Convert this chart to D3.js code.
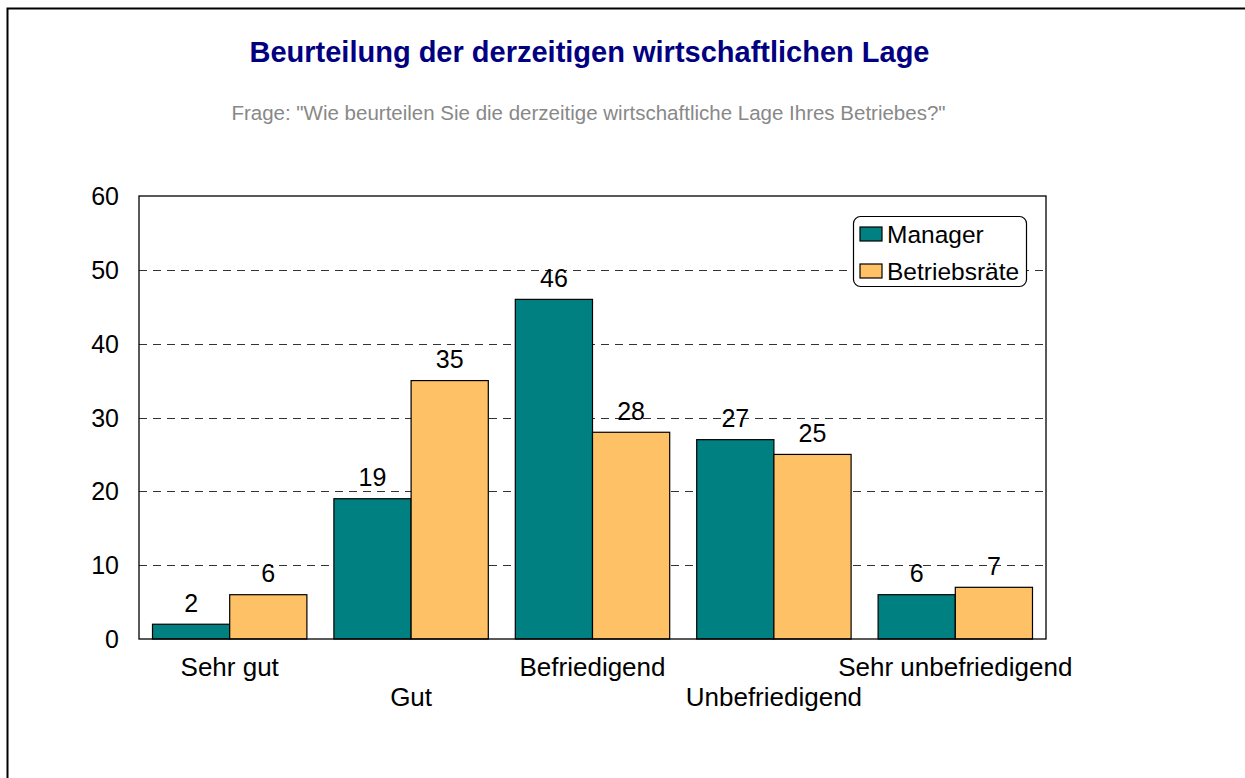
<!DOCTYPE html>
<html>
<head>
<meta charset="utf-8">
<script src="https://cdn.jsdelivr.net/npm/d3@7"></script>
<style>
  body { margin: 0; background: #fff; }
  svg { display: block; font-family: Arial, "Liberation Sans", sans-serif; }
</style>
</head>
<body>
<div id="chart"></div>
<script>
// data
var categories = ["Sehr gut", "Gut", "Befriedigend", "Unbefriedigend", "Sehr unbefriedigend"];
var seriesNames = ["Manager", "Betriebsräte"];
var managerValues = [2, 19, 46, 27, 6];
var betriebsratValues = [6, 35, 28, 25, 7];
var yTicks = [0, 10, 20, 30, 40, 50, 60];

var colors = ["#008080", "#FFC166"];

var width = 1245,
    height = 778;

var plot = { left: 139, top: 196, right: 1046, bottom: 639 };

var svg = d3.select("#chart")
            .append("svg")
            .attr("width", width)
            .attr("height", height);

// outer frame
svg.append("rect")
   .attr("x", 7.5)
   .attr("y", 8.5)
   .attr("width", width + 20)
   .attr("height", height + 20)
   .attr("fill", "none")
   .attr("stroke", "#000")
   .attr("stroke-width", 2);

// titles
svg.append("text")
   .attr("x", 589.5)
   .attr("y", 62)
   .attr("text-anchor", "middle")
   .style("font-size", "29px")
   .style("font-weight", "bold")
   .style("fill", "#000080")
   .text("Beurteilung der derzeitigen wirtschaftlichen Lage");

svg.append("text")
   .attr("x", 588.5)
   .attr("y", 120)
   .attr("text-anchor", "middle")
   .style("font-size", "20.5px")
   .style("fill", "#888")
   .text('Frage: "Wie beurteilen Sie die derzeitige wirtschaftliche Lage Ihres Betriebes?"');

var x0 = d3.scaleBand()
           .domain(categories)
           .range([plot.left, plot.right])
           .paddingInner(0)
           .paddingOuter(0);

var x1 = d3.scaleBand()
           .domain(seriesNames)
           .range([13.5, x0.bandwidth() - 13.5]);

var y = d3.scaleLinear()
          .domain([0, 60])
          .range([plot.bottom, plot.top]);

// grid lines
svg.append("g").selectAll("line")
   .data(yTicks.filter(function (d) { return d > 0 && d < 60; }))
   .enter()
   .append("line")
   .attr("x1", plot.left)
   .attr("x2", plot.right)
   .attr("y1", function (d) { return Math.round(y(d)) + 0.5; })
   .attr("y2", function (d) { return Math.round(y(d)) + 0.5; })
   .attr("stroke", "#333")
   .attr("stroke-dasharray", "8,6");

// y tick labels
svg.append("g").selectAll("text")
   .data(yTicks)
   .enter()
   .append("text")
   .attr("x", 119)
   .attr("y", function (d) { return y(d) + 9; })
   .attr("text-anchor", "end")
   .style("font-size", "25px")
   .text(function (d) { return d; });

var rows = categories.map(function (c, i) {
  return { cat: c, values: [managerValues[i], betriebsratValues[i]] };
});

var groups = svg.append("g").selectAll("g")
   .data(rows)
   .enter()
   .append("g")
   .attr("transform", function (d) { return "translate(" + x0(d.cat) + ",0)"; });

groups.selectAll("rect")
   .data(function (d) { return d.values.map(function (v, j) { return { name: seriesNames[j], value: v, idx: j }; }); })
   .enter()
   .append("rect")
   .attr("x", function (d) { return x1(d.name); })
   .attr("y", function (d) { return y(d.value); })
   .attr("width", x1.bandwidth())
   .attr("height", function (d) { return y(0) - y(d.value); })
   .attr("fill", function (d) { return colors[d.idx]; })
   .attr("stroke", "#000")
   .attr("stroke-width", 1.2);

groups.selectAll("text")
   .data(function (d) { return d.values.map(function (v, j) { return { name: seriesNames[j], value: v }; }); })
   .enter()
   .append("text")
   .attr("x", function (d) { return x1(d.name) + x1.bandwidth() / 2; })
   .attr("y", function (d) { return y(d.value) - 12.5; })
   .attr("text-anchor", "middle")
   .style("font-size", "25px")
   .text(function (d) { return d.value; });

// plot frame
svg.append("rect")
   .attr("x", plot.left)
   .attr("y", plot.top)
   .attr("width", plot.right - plot.left)
   .attr("height", plot.bottom - plot.top)
   .attr("fill", "none")
   .attr("stroke", "#000")
   .attr("stroke-width", 1.3);

// category labels, staggered
svg.append("g").selectAll("text")
   .data(categories)
   .enter()
   .append("text")
   .attr("x", function (d) { return x0(d) + x0.bandwidth() / 2; })
   .attr("y", function (d, i) { return i % 2 == 0 ? 676 : 706; })
   .attr("text-anchor", "middle")
   .style("font-size", "26px")
   .text(function (d) { return d; });

// legend
var legend = svg.append("g");

legend.append("rect")
   .attr("x", 853.5)
   .attr("y", 216.5)
   .attr("width", 173)
   .attr("height", 70)
   .attr("rx", 7)
   .attr("fill", "#fff")
   .attr("stroke", "#000")
   .attr("stroke-width", 1.2);

var items = legend.selectAll("g")
   .data(seriesNames)
   .enter()
   .append("g")
   .attr("transform", function (d, i) { return "translate(860," + (227 + i * 37) + ")"; });

items.append("rect")
   .attr("width", 22)
   .attr("height", 14)
   .attr("fill", function (d, i) { return colors[i]; })
   .attr("stroke", "#000")
   .attr("stroke-width", 1.2);

items.append("text")
   .attr("x", 27)
   .attr("y", 16)
   .style("font-size", "24.5px")
   .text(function (d) { return d; });
</script>
</body>
</html>
